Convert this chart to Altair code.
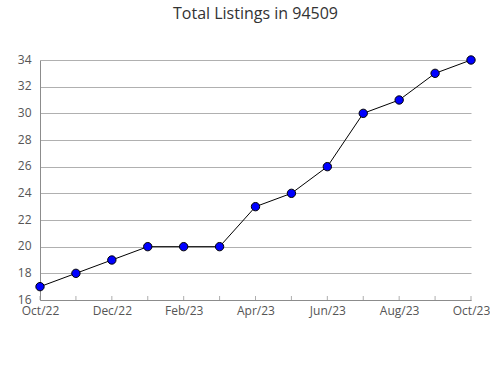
import altair as alt
import pandas as pd

months = ["Oct/22", "Nov/22", "Dec/22", "Jan/23", "Feb/23", "Mar/23", "Apr/23",
          "May/23", "Jun/23", "Jul/23", "Aug/23", "Sep/23", "Oct/23"]
listings = [17, 18, 19, 20, 20, 20, 23, 24, 26, 30, 31, 33, 34]
y_min, y_max = 16, 34
y_label_values = list(range(16, 35, 2))

df = pd.DataFrame({"idx": list(range(len(months))), "month": months, "listings": listings})

label_arr = "[" + ",".join("'%s'" % m for m in months) + "]"
label_expr = "datum.value % 2 == 0 ? " + label_arr + "[datum.value] : ''"

FONT = "Open Sans"
AX = "#8c8c8c"

xscale = alt.Scale(domain=[0, len(months) - 1], nice=False, zero=False)
yscale = alt.Scale(domain=[y_min, y_max], nice=False, zero=False)

x_axis = alt.Axis(
    values=list(range(len(months))), labelExpr=label_expr, title=None, grid=False,
    ticks=False, domainColor=AX, labelColor="#555555", labelFont=FONT, labelFontSize=12,
    labelPadding=5, labelFlush=False, labelOverlap=False)
y_axis = alt.Axis(
    values=y_label_values, tickCount=len(y_label_values), title=None, grid=True,
    gridColor="#b0b0b0", ticks=False,
    domainColor=AX, labelColor="#555555", labelFont=FONT, labelFontSize=12,
    labelPadding=9, labelFlush=False, labelOverlap=False, labelOffset=-1)

def X():
    return alt.X("idx:Q", scale=xscale, axis=x_axis)

def Y():
    return alt.Y("listings:Q", scale=yscale, axis=y_axis)

line = alt.Chart(df).mark_line(color="black", strokeWidth=1).encode(x=X(), y=Y())
pts = alt.Chart(df).mark_point(shape="circle", filled=True, fill="#0000ff", stroke="#000000",
                               strokeWidth=1, size=70, opacity=1).encode(x=X(), y=Y())
xticks = alt.Chart(df).mark_tick(orient="vertical", size=4, thickness=1, color=AX).encode(
    x=X(), y=alt.datum(y_min), yOffset=alt.value(-2))

chart = alt.layer(line, xticks, pts).properties(
    width=431, height=240,
    autosize=alt.AutoSizeParams(type="none"),
    padding={"left": 40, "top": 60, "right": 19, "bottom": 80},
    title=alt.TitleParams("Total Listings in 94509", font=FONT, fontSize=16, fontWeight="normal",
                          color="#333333", offset=31, anchor="middle"),
    background="white",
).configure_view(stroke=None)

chart.save("out.html", embed_options={"renderer": "svg", "actions": False})
